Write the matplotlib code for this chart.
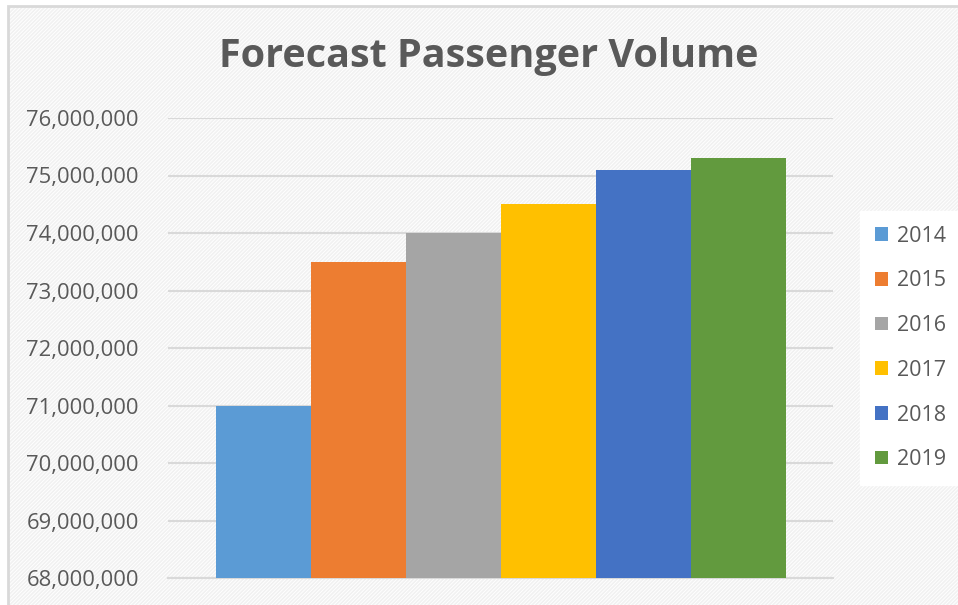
import matplotlib.pyplot as plt
from matplotlib.patches import Rectangle, Patch
from matplotlib.ticker import FuncFormatter

years = ["2014", "2015", "2016", "2017", "2018", "2019"]
volumes = [71000000, 73500000, 74000000, 74500000, 75100000, 75300000]
colors = ["#5b9bd5", "#ed7d31", "#a5a5a5", "#ffc000", "#4472c4", "#629a3e"]
y_ticks = [68000000, 69000000, 70000000, 71000000, 72000000,
           73000000, 74000000, 75000000, 76000000]

plt.rcParams['font.family'] = ['Open Sans', 'DejaVu Sans']
plt.rcParams['hatch.linewidth'] = 1.2
plt.rcParams['hatch.color'] = '#f1f1f1'

fig = plt.figure(figsize=(9.58, 6.05), dpi=100)
fig.patch.set_facecolor('white')

# striped background of the chart area
bg = Rectangle((8/958, 0), 1 - 8/958, 1 - 6/605, transform=fig.transFigure,
               facecolor='white', edgecolor='#f1f1f1', hatch='/' * 9,
               linewidth=0, zorder=-2)
fig.patches.append(bg)
border = Rectangle((8/958, -0.01), 1.0, 1 - 6/605 + 0.01, transform=fig.transFigure,
                   facecolor='none', edgecolor='#d9d9d9', linewidth=2, zorder=-1)
fig.patches.append(border)

ax = fig.add_axes([168/958, 1 - 578/605, (833 - 168)/958, (578 - 118)/605])
ax.set_zorder(2)
ax.patch.set_alpha(0)

for i in range(len(years)):
    ax.bar(i, volumes[i], width=1.0, color=colors[i], label=years[i], zorder=3)

ax.set_xlim(-1, 6)
ax.set_ylim(68000000, 76000000)
ax.set_yticks(y_ticks)
ax.yaxis.set_major_formatter(FuncFormatter(lambda v, p: "{:,.0f}".format(v)))
ax.set_xticks([])
ax.tick_params(axis='y', length=0, pad=21, labelsize=15.8, labelcolor='#595959')
ax.grid(axis='y', color='#d9d9d9', linewidth=1.5, zorder=0)
for s in ['top', 'right', 'left']:
    ax.spines[s].set_visible(False)
ax.spines['bottom'].set_color('#d9d9d9')
ax.spines['bottom'].set_linewidth(1.5)

fig.text(489/958, 1 - 57/605, "Forecast Passenger Volume", ha='center', va='center',
         fontsize=28.5, fontweight='bold', color='#595959')

handles = [Patch(facecolor=c, edgecolor='none') for c in colors]
leg = fig.legend(handles, years, loc='center left', bbox_to_anchor=(860/958, 1 - 348/605),
                 frameon=True, fancybox=False, framealpha=1, edgecolor='white',
                 fontsize=15.5, labelcolor='#595959', handlelength=0.6, handleheight=0.6,
                 handletextpad=0.4, labelspacing=1.1, borderpad=0.7, borderaxespad=0)
leg.set_zorder(3)

fig.savefig("out.png", dpi=100)
